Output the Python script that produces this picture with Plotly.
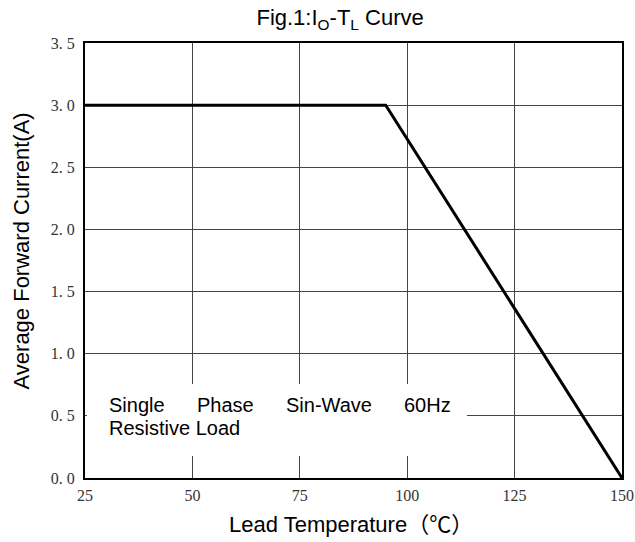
import plotly.graph_objects as go

# Data
temperature = [25, 95, 150]
current = [3.0, 3.0, 0.0]

x_ticks = [25, 50, 75, 100, 125, 150]
y_ticks = [0.0, 0.5, 1.0, 1.5, 2.0, 2.5, 3.0, 3.5]
y_tick_labels = ["0. 0", "0. 5", "1. 0", "1. 5", "2. 0", "2. 5", "3. 0", "3. 5"]

note_words = ["Single", "Phase", "Sin-Wave", "60Hz"]
note_word_x = [30.1, 50.6, 71.3, 98.7]
note_line2 = "Resistive Load"

fig = go.Figure()
fig.add_trace(go.Scatter(
    x=temperature, y=current, mode="lines",
    line=dict(color="black", width=3), showlegend=False, hoverinfo="skip",
))

tick_font = dict(family="Liberation Serif, DejaVu Serif, serif", size=16, color="#333333")

fig.update_xaxes(
    range=[25, 150], tickvals=x_ticks, ticktext=[str(v) for v in x_ticks],
    showgrid=True, gridcolor="#444444", gridwidth=1,
    showline=True, linecolor="black", linewidth=2, mirror=True,
    ticks="", tickfont=tick_font, zeroline=False, ticklabelstandoff=2,
    automargin=False,
)
fig.update_yaxes(
    range=[0, 3.5], tickvals=y_ticks, ticktext=y_tick_labels,
    showgrid=True, gridcolor="#444444", gridwidth=1,
    showline=True, linecolor="black", linewidth=2, mirror=True,
    ticks="", tickfont=tick_font, zeroline=False, ticklabelstandoff=5,
    automargin=False,
)

# white box behind the note text (hides grid lines)
fig.add_shape(type="rect", xref="x", yref="y", x0=25.45, x1=113.9, y0=0.177, y1=0.756,
              fillcolor="white", line=dict(width=0), layer="above")

txt_font = dict(family="Liberation Sans, Arial, sans-serif", size=20, color="black")
for w, xv in zip(note_words, note_word_x):
    fig.add_annotation(x=xv, y=0.585, xref="x", yref="y", text=w, showarrow=False,
                       xanchor="left", yanchor="middle", font=txt_font)
fig.add_annotation(x=note_word_x[0], y=0.40, xref="x", yref="y", text=note_line2, showarrow=False,
                   xanchor="left", yanchor="middle", font=txt_font)

# axis titles
fig.add_annotation(x=-0.119, y=0.521, xref="paper", yref="paper", text="Average Forward Current(A)",
                   showarrow=False, textangle=-90, xanchor="center", yanchor="middle",
                   font=dict(family="Liberation Sans, Arial, sans-serif", size=22, color="black"))
fig.add_annotation(x=0.264, y=-0.106, xref="paper", yref="paper", text="Lead Temperature（℃）",
                   showarrow=False, xanchor="left", yanchor="middle",
                   font=dict(family="Liberation Sans, Noto Sans CJK SC, sans-serif", size=22, color="black"))

fig.update_layout(
    width=635, height=542,
    margin=dict(l=85, r=13, t=43, b=64, autoexpand=False),
    paper_bgcolor="white", plot_bgcolor="white",
    title=dict(text="Fig.1:I<sub>O</sub>-T<sub>L</sub> Curve", xref="paper", x=0.475, xanchor="center",
               y=0.968, yanchor="middle",
               font=dict(family="Liberation Sans, Arial, sans-serif", size=22, color="black")),
)

fig.write_html(
    "out.html",
    config={"responsive": False, "displayModeBar": False},
    post_script="document.body.style.margin='0';document.body.style.overflow='hidden';",
)
